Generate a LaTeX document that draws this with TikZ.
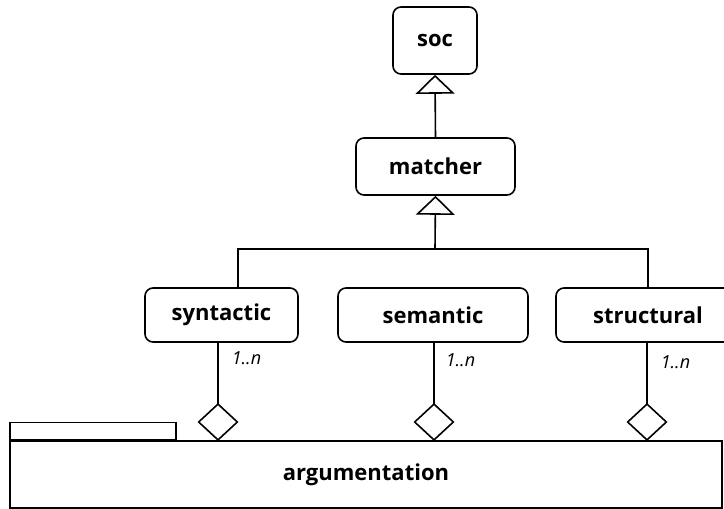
\documentclass[tikz,border=0pt]{standalone}
\usepackage{fontspec}
\setmainfont{Open Sans}
\usetikzlibrary{arrows.meta}
\begin{document}
\begin{tikzpicture}[x=1pt,y=-1pt,
  line width=1.6pt,
  classbox/.style={draw, rounded corners=8pt, inner sep=0pt, font=\fontsize{22}{24}\selectfont\bfseries},
  plainbox/.style={draw, inner sep=0pt, font=\fontsize{22}{24}\selectfont\bfseries},
  gen/.style={-{Triangle[open, length=19pt, width=39pt, line width=1.6pt, fill=white]}},
  agg/.style={-{Diamond[open, length=38pt, width=41pt, line width=1.6pt, fill=white]}},
  mult/.style={anchor=west, inner sep=0pt, font=\fontsize{18}{20}\selectfont\itshape}]
\useasboundingbox (0,0) rectangle (724,509);
\fill[white] (0,0) rectangle (724,509);

% classes
\node[classbox, minimum width=84pt, minimum height=67pt] (soc) at (435,40.5) {soc};
\node[classbox, minimum width=159pt, minimum height=57pt] (matcher) at (435.5,166.5) {matcher};
\node[classbox, minimum width=153pt, minimum height=54pt] (syntactic) at (221.5,315) {syntactic};
\node[classbox, minimum width=190pt, minimum height=54pt] (semantic) at (433,315) {semantic};
\node[classbox, minimum width=184pt, minimum height=54pt] (structural) at (648,315) {structural};

% aggregate with its tab
\node[plainbox, minimum width=712pt, minimum height=67pt] (argumentation) at (366,474.5) {argumentation};
\node[draw, inner sep=0pt, minimum width=166pt, minimum height=17pt, anchor=south west] (tab) at (argumentation.north west) {};

% generalisation
\draw[gen] (matcher.north) -- (soc.south);
\coordinate (bar) at (435,249);
\coordinate (synup) at (238,288);
\coordinate (strup) at (648,288);
\draw (synup) |- (bar) -| (strup);
\draw[gen] (bar) -- (matcher.south);

% aggregation
\coordinate (a1) at (218,441);
\coordinate (a2) at (434,441);
\coordinate (a3) at (647,441);
\draw[agg] (a1 |- syntactic.south) -- (a1);
\draw[agg] (a2 |- semantic.south) -- (a2);
\draw[agg] (a3 |- structural.south) -- (a3);

% multiplicities
\node[mult] (m1) at (231,358) {1..n};
\node[mult] (m2) at (445,360) {1..n};
\node[mult] (m3) at (660,362) {1..n};
\end{tikzpicture}
\end{document}
